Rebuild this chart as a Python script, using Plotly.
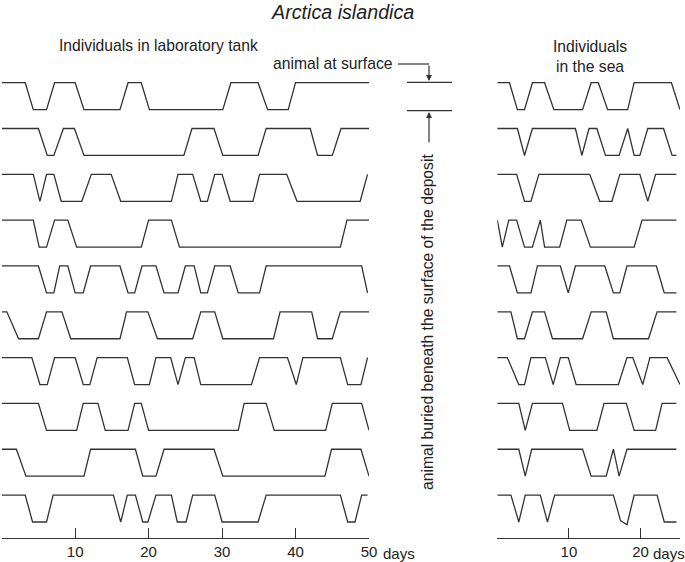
import plotly.graph_objects as go

# =========================
# DATA (day, state: 1 = at surface, 0 = buried)
# =========================
lab_days = [
    [0, 3.2, 4.3, 6.1, 7.2, 10.0, 11.2, 16.1, 17.2, 19.0, 20.1, 30.1, 31.2, 34.9, 36.2, 39.0, 40.0, 50],
    [0, 5.0, 6.2, 7.1, 8.4, 9.9, 11.2, 24.8, 25.9, 28.9, 30.1, 34.9, 36.0, 42.0, 43.0, 45.0, 46.2, 50],
    [0, 4.3, 5.2, 6.1, 7.1, 8.1, 10.9, 12.2, 14.9, 16.2, 23.1, 24.0, 26.0, 27.1, 28.0, 29.0, 30.0, 31.1,
     34.2, 35.1, 38.8, 40.2, 48.8, 49.8],
    [0, 4.3, 5.1, 6.1, 7.2, 9.0, 10.2, 19.0, 20.0, 23.1, 24.2, 46.1, 47.0, 50],
    [0, 5.0, 6.1, 7.1, 7.9, 9.0, 10.0, 11.1, 12.1, 16.1, 17.2, 18.1, 19.1, 21.0, 22.1, 24.0, 25.0, 26.2,
     27.1, 28.0, 29.0, 31.1, 32.2, 35.1, 36.0, 49.0, 49.8],
    [0, 0.7, 2.3, 5.0, 6.1, 8.2, 9.4, 16.1, 17.0, 19.9, 21.2, 26.0, 27.1, 29.0, 30.1, 37.0, 37.9, 42.2,
     43.0, 45.0, 46.1, 50],
    [0, 4.1, 5.2, 6.2, 7.2, 10.0, 11.1, 12.0, 13.0, 17.1, 18.1, 20.1, 21.0, 23.0, 24.0, 25.0, 26.2, 27.1,
     34.0, 35.1, 38.9, 40.1, 41.0, 46.1, 47.1, 48.9, 49.8],
    [0, 5.0, 6.1, 10.2, 11.1, 13.1, 14.1, 17.2, 18.1, 19.0, 20.0, 32.2, 33.0, 36.0, 37.1, 44.1, 45.0, 49.0, 50],
    [0, 2.0, 3.3, 11.2, 12.1, 18.2, 19.2, 21.0, 22.1, 28.9, 30.1, 44.0, 44.9, 48.9, 50],
    [0, 3.2, 4.2, 6.1, 7.0, 15.2, 16.2, 17.1, 18.2, 19.2, 19.9, 21.0, 23.1, 23.9, 25.1, 26.0, 29.0, 30.0,
     34.9, 36.0, 46.1, 47.1, 48.1, 49.0, 49.8],
]
lab_state = [
    [1, 1, 0, 0, 1, 1, 0, 0, 1, 1, 0, 0, 1, 1, 0, 0, 1, 1],
    [1, 1, 0, 0, 1, 1, 0, 0, 1, 1, 0, 0, 1, 1, 0, 0, 1, 1],
    [1, 1, 0, 1, 1, 0, 0, 1, 1, 0, 0, 1, 1, 0, 0, 1, 1, 0, 0, 1, 1, 0, 0, 1],
    [1, 1, 0, 0, 1, 1, 0, 0, 1, 1, 0, 0, 1, 1],
    [1, 1, 0, 0, 1, 1, 0, 0, 1, 1, 0, 0, 1, 1, 0, 0, 1, 1, 0, 0, 1, 1, 0, 0, 1, 1, 0],
    [1, 1, 0, 0, 1, 1, 0, 0, 1, 1, 0, 0, 1, 1, 0, 0, 1, 1, 0, 0, 1, 1],
    [1, 1, 0, 0, 1, 1, 0, 0, 1, 1, 0, 0, 1, 1, 0, 1, 1, 0, 0, 1, 1, 0, 1, 1, 0, 0, 1],
    [1, 1, 0, 0, 1, 1, 0, 0, 1, 1, 0, 0, 1, 1, 0, 0, 1, 1, 0],
    [1, 1, 0, 0, 1, 1, 0, 0, 1, 1, 0, 0, 1, 1, 0],
    [1, 1, 0, 0, 1, 1, 0, 1, 1, 0, 0, 1, 1, 0, 0, 1, 1, 0, 0, 1, 1, 0, 0, 1, 1],
]

sea_days = [
    [0, 1.7, 2.8, 3.8, 4.9, 6.6, 7.9, 11.9, 13.1, 14.1, 15.4, 18.2, 19.1, 24.3, 25.5],
    [0, 2.8, 3.8, 4.9, 10.9, 11.8, 12.8, 13.9, 15.1, 17.0, 18.2, 19.1, 19.9, 21.0, 23.2, 24.4, 25.0],
    [0, 2.7, 3.8, 4.7, 5.8, 12.9, 14.3, 16.0, 17.1, 19.9, 21.0, 22.1, 25.0],
    [0, 0.7, 1.6, 2.7, 3.8, 4.9, 6.0, 6.6, 8.7, 9.7, 11.7, 13.0, 19.1, 20.2, 25.0],
    [0, 1.7, 2.8, 4.7, 5.6, 8.8, 9.9, 10.9, 15.0, 16.2, 17.1, 18.1, 22.2, 23.3, 25.0],
    [0, 1.9, 2.8, 3.8, 4.9, 6.6, 7.7, 11.9, 13.1, 15.2, 16.2, 21.1, 22.3, 25.0],
    [0, 1.4, 3.0, 3.8, 4.7, 6.7, 7.8, 8.8, 9.9, 11.0, 16.9, 18.1, 18.9, 20.3, 21.3, 23.7, 25.5],
    [0, 3.0, 3.9, 4.9, 9.1, 10.1, 13.9, 14.9, 18.0, 19.1, 22.1, 23.0, 25.0],
    [0, 3.0, 3.9, 4.8, 11.9, 13.1, 15.2, 16.2, 17.0, 18.1, 25.0],
    [0, 1.9, 3.0, 3.9, 6.0, 7.0, 8.0, 16.2, 17.2, 18.1, 19.1, 22.3, 23.3, 25.0],
]
sea_state = [
    [1, 1, 0, 0, 1, 1, 0, 0, 1, 1, 0, 0, 1, 1, 0],
    [1, 1, 0, 1, 1, 0, 1, 1, 0, 0, 1, 0, 0, 1, 1, 0, 0],
    [1, 1, 0, 0, 1, 1, 0, 0, 1, 1, 0, 1, 1],
    [1, 0, 1, 1, 0, 0, 1, 0, 0, 1, 1, 0, 0, 1, 1],
    [1, 1, 0, 0, 1, 1, 0, 1, 1, 0, 0, 1, 1, 0, 0],
    [1, 1, 0, 0, 1, 1, 0, 0, 1, 1, 0, 0, 1, 1],
    [1, 1, 0, 0, 1, 1, 0, 1, 1, 0, 0, 1, 1, 0, 1, 1, 0],
    [1, 1, 0, 1, 1, 0, 0, 1, 1, 0, 0, 1, 1],
    [1, 1, 0, 1, 1, 0, 0, 1, 0, 1, 1],
    [1, 1, 0, 1, 1, 0, 1, 1, 0.05, -0.1, 1, 1, 0, 0],
]

lab_ticks = [0, 10, 20, 30, 40, 50]
lab_ticktext = ["", "10", "20", "30", "40", "50"]
sea_ticks = [0, 10, 20]
sea_ticktext = ["", "10", "20"]

# =========================
# LAYOUT HELPERS (pixel -> paper)
# =========================
W, H = 685, 562
ROW_GAP = 1.7          # vertical spacing between individuals (state units)
LINE = dict(color="#333333", width=1.3)
FONT = "Liberation Sans, Arial, sans-serif"
TXT_SIZE = 15.7


def px(x):
    return x / W


def py(y):
    return 1 - y / H


fig = go.Figure()

for i, (d, s) in enumerate(zip(lab_days, lab_state)):
    fig.add_trace(go.Scatter(x=d, y=[v - i * ROW_GAP for v in s], mode="lines",
                             line=LINE, xaxis="x", yaxis="y", hoverinfo="skip"))

for i, (d, s) in enumerate(zip(sea_days, sea_state)):
    fig.add_trace(go.Scatter(x=d, y=[v - i * ROW_GAP for v in s], mode="lines",
                             line=LINE, xaxis="x2", yaxis="y", hoverinfo="skip"))

# y range so that row 1 top sits at ~83px and row 10 bottom at ~522px
unit = (522 - 82.7) / (1 + 9 * ROW_GAP)
y_top = 1 + 82.7 / unit
y_bot = -9 * ROW_GAP - (H - 522) / unit

axis_common = dict(
    anchor="free", position=py(538), showline=True, linecolor="#333333", linewidth=1.3,
    ticks="inside", ticklen=10, tickwidth=1.3, tickcolor="#333333", automargin=False,
    showgrid=False, zeroline=False, tickfont=dict(family=FONT, size=15, color="#222222"),
)

fig.update_layout(
    width=W, height=H,
    margin=dict(l=0, r=0, t=0, b=0, pad=0),
    paper_bgcolor="white", plot_bgcolor="white",
    showlegend=False,
    xaxis=dict(domain=[px(1.7), px(369)], range=[0, 50],
               tickvals=lab_ticks, ticktext=lab_ticktext, **axis_common),
    xaxis2=dict(domain=[px(497.3), px(680)], range=[0, 25.5],
                tickvals=sea_ticks, ticktext=sea_ticktext, **axis_common),
    yaxis=dict(domain=[0, 1], range=[y_bot, y_top], visible=False, automargin=False),
    font=dict(family=FONT, size=TXT_SIZE, color="#222222"),
)

txt = dict(showarrow=False, xref="paper", yref="paper", xanchor="center", yanchor="middle",
           font=dict(family=FONT, size=TXT_SIZE, color="#222222"))
days_font = dict(family=FONT, size=15, color="#222222")

fig.add_annotation(text="<i>Arctica islandica</i>", x=px(342), y=py(12),
                   **{**txt, "font": dict(family=FONT, size=19.7, color="#222222")})
fig.add_annotation(text="Individuals in laboratory tank", x=px(158), y=py(46), **txt)
fig.add_annotation(text="Individuals<br>in the sea", x=px(590), y=py(56), **txt)
fig.add_annotation(text="days", x=px(381), y=py(553), **{**txt, "xanchor": "left", "font": days_font})
fig.add_annotation(text="days", x=px(651), y=py(553), **{**txt, "xanchor": "left", "font": days_font})
fig.add_annotation(text="animal at surface", x=px(395), y=py(64), **{**txt, "xanchor": "right"})
fig.add_annotation(text="animal buried beneath the surface of the deposit", textangle=-90,
                   x=px(427), y=py(322), **txt)

# level markers and arrows
fig.add_shape(type="line", xref="paper", yref="paper", x0=px(407), x1=px(452),
              y0=py(82.3), y1=py(82.3), line=dict(color="#333333", width=1.2))
fig.add_shape(type="line", xref="paper", yref="paper", x0=px(407), x1=px(452),
              y0=py(110.7), y1=py(110.7), line=dict(color="#333333", width=1.2))
fig.add_shape(type="line", xref="paper", yref="paper", x0=px(398), x1=px(429),
              y0=py(64), y1=py(64), line=dict(color="#333333", width=1.2))
fig.add_annotation(x=px(429), y=py(81), xref="paper", yref="paper", text="", showarrow=True,
                   ax=0, ay=-17, arrowhead=2, arrowsize=1, arrowwidth=1.2, arrowcolor="#333333")
fig.add_annotation(x=px(429), y=py(112), xref="paper", yref="paper", text="", showarrow=True,
                   ax=0, ay=32, arrowhead=2, arrowsize=1, arrowwidth=1.2, arrowcolor="#333333")

# remove the default page margin so the figure fills the window
fig.write_html("out.html", config={"displayModeBar": False},
               post_script="document.body.style.margin='0';")
